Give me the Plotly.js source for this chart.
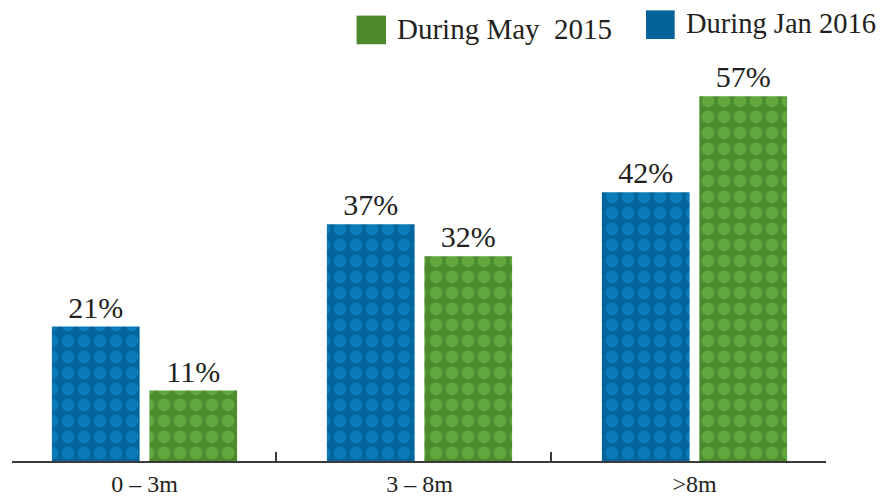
<!DOCTYPE html>
<html>
<head>
<meta charset="utf-8">
<script src="https://cdn.plot.ly/plotly-3.0.1.min.js"></script>
<style>html,body{margin:0;padding:0;background:#fff;}#chart{width:881px;height:498px;}</style>
</head>
<body>
<div id="chart"></div>
<script>
var categories = ["0 – 3m", "3 – 8m", ">8m"];
var jan2016 = [21, 37, 42];
var may2015 = [11, 32, 57];
var seriesNames = ["During Jan 2016", "During May  2015"];

var blue = "#03659b", blueDrop = "#0a7bb8";
var green = "#4b8b2e", greenDrop = "#60a83e";
var serif = "Liberation Serif";
var ink = "#231f20";

function bar(name, vals, base, drop) {
  return {
    type: "bar", name: name, x: categories, y: vals,
    text: vals.map(function(v){ return v + "%"; }),
    textposition: "outside", cliponaxis: false,
    textfont: {family: serif, size: 30, color: ink},
    marker: {color: base, line: {width: 0},
      pattern: {shape: ".", fgcolor: drop, bgcolor: base, size: 16, solidity: 0.5}},
    hoverinfo: "skip", showlegend: false
  };
}

var data = [bar(seriesNames[0], jan2016, blue, blueDrop), bar(seriesNames[1], may2015, green, greenDrop)];
// invisible helper trace on a linear overlay axis that carries the boundary ticks
data.push({type: "scatter", x: [0], y: [0], xaxis: "x2", mode: "none", hoverinfo: "skip", showlegend: false});

var xr = [-0.4818, 2.4782];

var layout = {
  width: 881, height: 498,
  margin: {l: 12, r: 55, t: 61, b: 37},
  paper_bgcolor: "#fff", plot_bgcolor: "#fff",
  barmode: "group", bargap: 0.291, bargroupgap: 0.1,
  xaxis: {
    type: "category", range: xr, showgrid: false, zeroline: false,
    showline: true, linecolor: "#3a3a3a", linewidth: 2,
    ticks: "", tickfont: {family: serif, size: 24, color: ink}, ticklabelstandoff: 0
  },
  xaxis2: {
    overlaying: "x", anchor: "y", type: "linear", range: xr,
    showgrid: false, zeroline: false, showline: false, showticklabels: false,
    tickmode: "array", tickvals: [-0.481, 0.478, 1.478, 2.4775],
    ticks: "inside", ticklen: 9, tickwidth: 1.5, tickcolor: "#3a3a3a"
  },
  yaxis: {range: [0, 62.5], visible: false, showgrid: false, zeroline: false},
  showlegend: false,
  shapes: [
    {type: "rect", xref: "paper", yref: "paper", x0: 0.4233, x1: 0.4595, y0: 1.0418, y1: 1.1135, fillcolor: "#4c8a2b", line: {width: 0}},
    {type: "rect", xref: "paper", yref: "paper", x0: 0.7789, x1: 0.8141, y0: 1.055, y1: 1.1265, fillcolor: "#036398", line: {width: 0}}
  ],
  annotations: [
    {xref: "paper", yref: "paper", x: 0.471, y: 1.08, xanchor: "left", yanchor: "middle", showarrow: false,
     text: seriesNames[1], font: {family: serif, size: 29, color: ink}},
    {xref: "paper", yref: "paper", x: 0.826, y: 1.0925, xanchor: "left", yanchor: "middle", showarrow: false,
     text: seriesNames[0], font: {family: serif, size: 28.5, color: ink}}
  ]
};

Plotly.newPlot("chart", data, layout, {displayModeBar: false, staticPlot: true});
</script>
</body>
</html>
